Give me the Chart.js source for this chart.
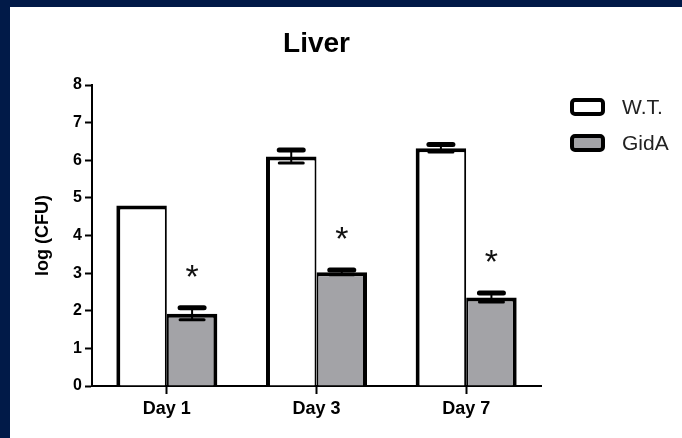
<!DOCTYPE html>
<html>
<head>
<meta charset="utf-8">
<script src="https://cdn.jsdelivr.net/npm/chart.js@4/dist/chart.umd.min.js"></script>
<style>
  html, body { margin: 0; padding: 0; background: #011a48; }
  #wrap { position: absolute; left: 10px; top: 7px; width: 672px; height: 431px; background: #fff; }
</style>
</head>
<body>
<div id="wrap"><canvas id="liver-chart"></canvas></div>
<script>
const categories = ['Day 1', 'Day 3', 'Day 7']
const wtMeans = [4.8, 6.1, 6.32]
const wtErrors = [0, 0.17, 0.1]
const gidaMeans = [1.92, 3.02, 2.35]
const gidaErrors = [0.16, 0.06, 0.12]
const gidaMarks = ['*', '*', '*']

const fontFamily = "'Liberation Sans', Arial, sans-serif"

// error bars + significance stars
const errorBarPlugin = {
  id: 'errorBars',
  afterDatasetsDraw(chart) {
    const ctx = chart.ctx
    const y = chart.scales.y
    chart.data.datasets.forEach((ds, i) => {
      const meta = chart.getDatasetMeta(i)
      meta.data.forEach((bar, j) => {
        const err = ds.errors[j]
        const x = bar.x
        const hi = y.getPixelForValue(ds.data[j] + err)
        const lo = y.getPixelForValue(ds.data[j] - err)
        ctx.save()
        ctx.strokeStyle = '#000'
        if (err > 0) {
          ctx.lineWidth = 2
          ctx.beginPath()
          ctx.moveTo(x, hi)
          ctx.lineTo(x, lo)
          ctx.stroke()
          ctx.lineWidth = 5
          ctx.lineCap = 'round'
          ctx.beginPath()
          ctx.moveTo(x - 12, hi)
          ctx.lineTo(x + 12, hi)
          ctx.stroke()
          ctx.lineWidth = 3
          ctx.beginPath()
          ctx.moveTo(x - 12, lo)
          ctx.lineTo(x + 12, lo)
          ctx.stroke()
        }
        if (ds.marks && ds.marks[j]) {
          ctx.fillStyle = '#111'
          ctx.font = '34px ' + fontFamily
          ctx.textAlign = 'center'
          ctx.textBaseline = 'middle'
          ctx.fillText(ds.marks[j], x, hi - 29)
        }
        ctx.restore()
      })
    })
  }
}

// legend on the right, drawn by hand
const sideLegendPlugin = {
  id: 'sideLegend',
  afterDraw(chart) {
    const ctx = chart.ctx
    chart.data.datasets.forEach((ds, i) => {
      const cy = 100 + i * 36
      ctx.save()
      ctx.beginPath()
      ctx.roundRect(562, cy - 7, 31, 14, 3)
      ctx.fillStyle = ds.backgroundColor
      ctx.fill()
      ctx.lineWidth = 4
      ctx.strokeStyle = '#000'
      ctx.stroke()
      ctx.fillStyle = '#222'
      ctx.font = '21px ' + fontFamily
      ctx.textAlign = 'left'
      ctx.textBaseline = 'middle'
      ctx.fillText(ds.label, 612, cy + 1)
      ctx.restore()
    })
  }
}

new Chart(document.getElementById('liver-chart'), {
  type: 'bar',
  data: {
    labels: categories,
    datasets: [{
      label: 'W.T.',
      data: wtMeans,
      errors: wtErrors,
      backgroundColor: '#ffffff',
      borderColor: '#000',
      borderWidth: { top: 4, left: 4, right: 2, bottom: 0 },
      borderSkipped: false,
      barPercentage: 1,
      categoryPercentage: 0.675
    }, {
      label: 'GidA',
      data: gidaMeans,
      errors: gidaErrors,
      marks: gidaMarks,
      backgroundColor: '#a3a3a7',
      borderColor: '#000',
      borderWidth: { top: 4, left: 2, right: 4, bottom: 0 },
      borderSkipped: false,
      barPercentage: 1,
      categoryPercentage: 0.675
    }]
  },
  options: {
    responsive: true,
    maintainAspectRatio: false,
    animation: false,
    layout: { padding: { left: 0, right: 141, top: 0, bottom: 0 } },
    plugins: {
      legend: { display: false },
      tooltip: { enabled: false },
      title: {
        display: true,
        text: 'Liver',
        fullSize: false,
        color: '#000',
        font: { family: fontFamily, size: 28, weight: 'bold' },
        padding: { top: 20, bottom: 24.4 }
      }
    },
    scales: {
      x: {
        offset: true,
        grid: {
          offset: false,
          drawOnChartArea: false,
          drawTicks: true,
          tickLength: 8,
          tickWidth: 2,
          tickColor: '#000'
        },
        border: { color: '#000', width: 2 },
        ticks: {
          color: '#000',
          padding: 4,
          font: { family: fontFamily, size: 18, weight: 'bold' }
        },
        afterFit: (scale) => { scale.height = 52 }
      },
      y: {
        min: 0,
        max: 8,
        ticks: {
          stepSize: 1,
          color: '#000',
          padding: 3,
          font: { family: fontFamily, size: 16, weight: 'bold' }
        },
        grid: {
          drawOnChartArea: false,
          drawTicks: true,
          tickLength: 7,
          tickWidth: 2,
          tickColor: '#000'
        },
        border: { color: '#000', width: 2 },
        title: {
          display: true,
          text: 'log (CFU)',
          color: '#000',
          font: { family: fontFamily, size: 18, weight: 'bold' },
          padding: { top: 22, bottom: 0 }
        },
        afterFit: (scale) => { scale.width = 82 }
      }
    }
  },
  plugins: [errorBarPlugin, sideLegendPlugin]
})
</script>
</body>
</html>
